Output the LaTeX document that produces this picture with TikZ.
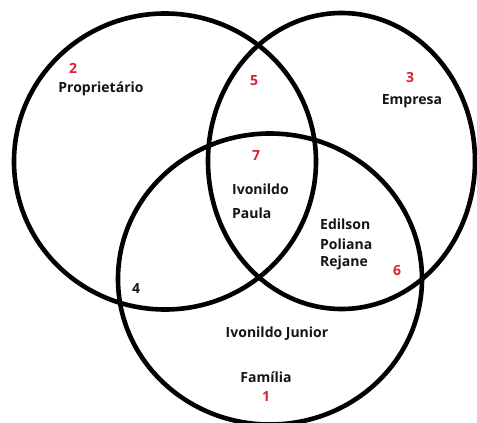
\documentclass[tikz,border=0pt]{standalone}
\usepackage{fontspec}
\setmainfont{Open Sans}
\definecolor{numred}{RGB}{225,30,50}
\definecolor{txt}{RGB}{20,20,20}
\begin{document}
\begin{tikzpicture}[x=1pt,y=-1pt,
  ring/.style={line width=4.6pt,black},
  lbl/.style={font=\bfseries\fontsize{14}{17}\selectfont,text=txt,inner sep=0pt},
  num/.style={font=\bfseries\fontsize{14}{17}\selectfont,text=numred,inner sep=0pt}]
\useasboundingbox (0,0) rectangle (477,423);
\begin{scope}
\clip (0,0) rectangle (477,423);
\draw[ring] (165,161.5) ellipse [x radius=151, y radius=148];
\draw[ring] (341.5,161) ellipse [x radius=133.5, y radius=148];
\draw[ring] (270,279) ellipse [x radius=152, y radius=145.5];
\end{scope}
\node[num] (n2) at (73,68) {2};
\node[lbl] (prop) at (101,89) {Proprietário};
\node[num] (n5) at (254,81) {5};
\node[num] (n3) at (410,77) {3};
\node[lbl] (emp) at (412,101) {Empresa};
\node[num] (n7) at (256,156) {7};
\node[lbl,anchor=west] (ivo) at (232,189) {Ivonildo};
\node[lbl,anchor=west] (pau) at (232,213) {Paula};
\node[lbl,anchor=west] (edi) at (320,224) {Edilson};
\node[lbl,anchor=west] (pol) at (320,244) {Poliana};
\node[lbl,anchor=west] (rej) at (320,263) {Rejane};
\node[num] (n6) at (397,271) {6};
\node[lbl] (n4) at (136,289) {4};
\node[lbl] (jun) at (277,334) {Ivonildo Junior};
\node[lbl] (fam) at (266,377) {Família};
\node[num] (n1) at (266,396) {1};
\end{tikzpicture}
\end{document}
